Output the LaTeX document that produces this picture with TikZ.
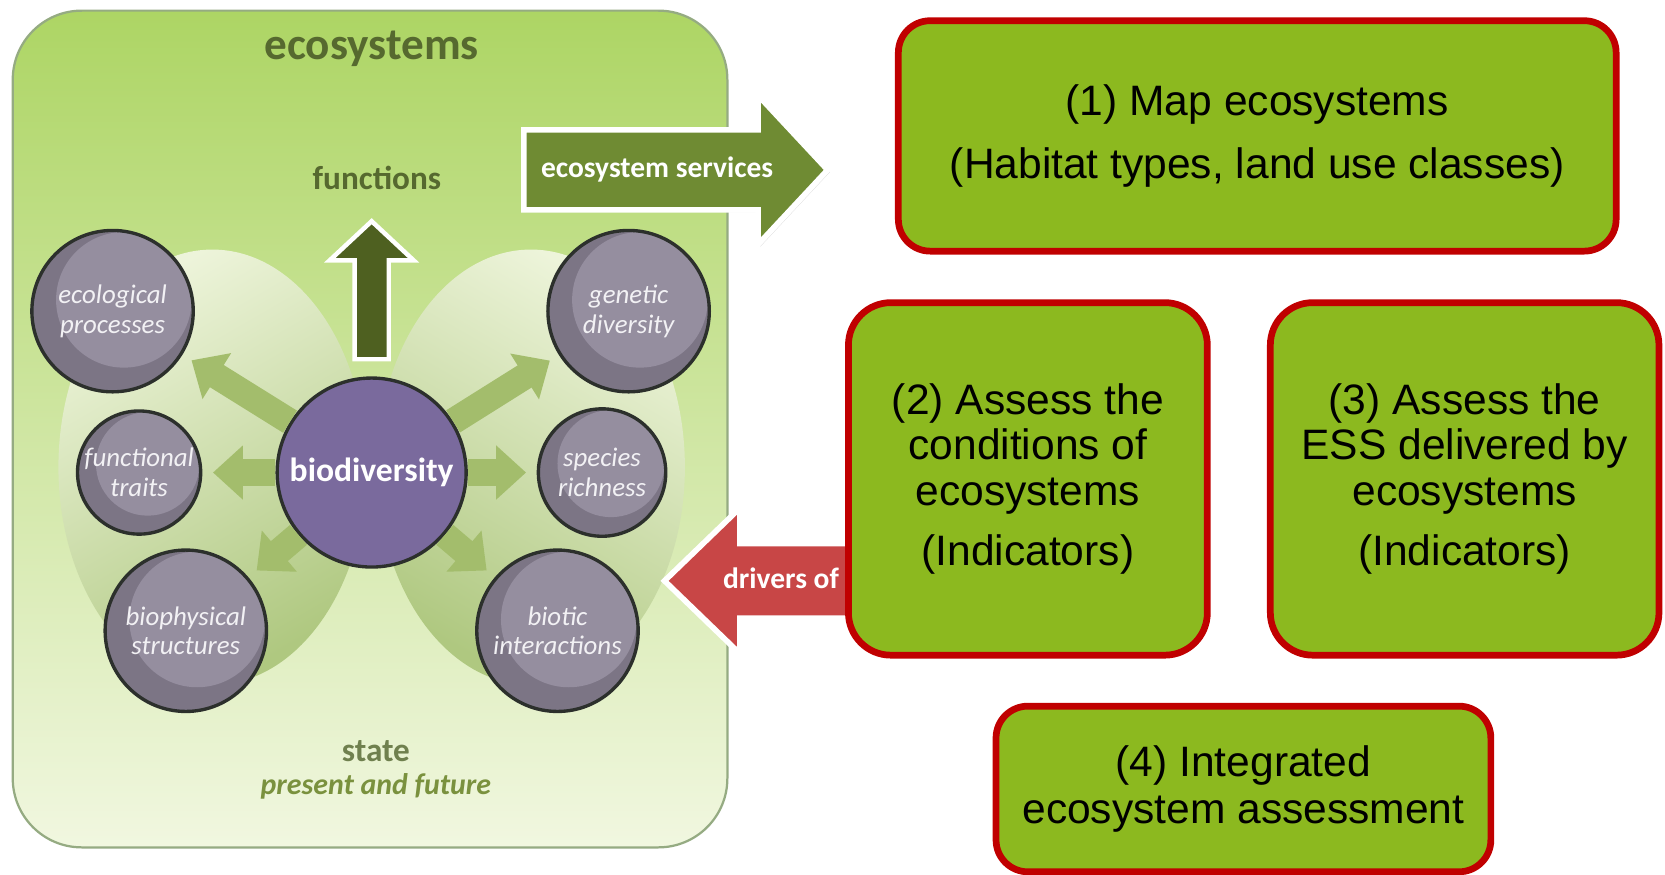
\documentclass[tikz,border=0pt]{standalone}
\usepackage{fontspec}
\setmainfont{Liberation Sans}
\newfontfamily\calfont{Carlito}
\usepackage{xcolor}
\usetikzlibrary{arrows.meta,shapes.arrows,shadows,positioning}

\definecolor{stepgreen}{HTML}{8CB91F}
\definecolor{stepred}{HTML}{C00000}
\definecolor{panetop}{HTML}{ADD564}
\definecolor{panemid}{HTML}{D3E8A6}
\definecolor{panebot}{HTML}{F1F7E0}
\definecolor{paneline}{HTML}{95AB82}
\definecolor{winglight}{HTML}{EDF4DA}
\definecolor{wingdark}{HTML}{AFC880}
\definecolor{circbase}{HTML}{7C7585}
\definecolor{circlite}{HTML}{958E9F}
\definecolor{circline}{HTML}{2C302C}
\definecolor{biopurple}{HTML}{7A6A9D}
\definecolor{oliveink}{HTML}{56692F}
\definecolor{oliveital}{HTML}{7A913E}
\definecolor{essgreen}{HTML}{6F8B33}
\definecolor{fngreen}{HTML}{4E6020}
\definecolor{drvred}{HTML}{C84646}
\definecolor{smallarr}{HTML}{A3BD6C}

\newcommand{\stepfont}{\fontsize{11.4}{12.2}\selectfont}
\newcommand{\circfont}{\calfont\itshape\fontsize{7.2}{8}\selectfont}

\tikzset{
    panelsty/.style={draw=paneline, line width=0.6pt, rounded corners=6.5mm,
        top color=panetop, middle color=panemid, bottom color=panebot},
    wingsty/.style={top color=winglight, bottom color=wingdark},
    stepsty/.style={draw=stepred, line width=1.8pt, fill=stepgreen, rounded corners=3mm,
        align=center, font=\stepfont, inner sep=0pt},
    circsty/.style={circle, draw=circline, line width=0.9pt, fill=circbase, inner sep=0pt,
        minimum size=#1, align=center, font=\circfont, text=white!88!circlite,
        path picture={\fill[circlite] ([xshift=0.07*#1,yshift=0.07*#1]path picture bounding box.center)
            circle [radius=0.42*#1];}},
    biosty/.style={circle, draw=circline, line width=0.9pt, fill=biopurple, minimum size=17.8mm,
        inner sep=0pt, text=white, font=\calfont\bfseries\fontsize{9}{10}\selectfont},
    smallarrsty/.style={draw=smallarr, line width=7pt, -{Triangle[length=8pt,width=14pt]}, shorten >=1mm},
    bigarrsty/.style={single arrow, draw=white, line width=1.5pt, inner xsep=0pt,
        text height=2.2mm, text depth=0.8mm,
        drop shadow={opacity=0.3, shadow xshift=0.6pt, shadow yshift=-0.6pt},
        text=white, font=\calfont\bfseries\fontsize{7.9}{9}\selectfont},
    labelsty/.style={text=oliveink, font=\calfont\bfseries\fontsize{8.9}{10}\selectfont},
}

\begin{document}
\begin{tikzpicture}[x=0.1mm, y=-0.1mm]
\useasboundingbox (0,0) rectangle (1568,824);

% ecosystems panel with the two wings behind the circles
\draw[panelsty] (12,10) rectangle (685,798);
\shade[wingsty, shading angle=30] (200,440) ellipse [x radius=14.5mm, y radius=20.5mm];
\shade[wingsty, shading angle=-30] (500,440) ellipse [x radius=14.5mm, y radius=20.5mm];

\node[labelsty, font=\calfont\bfseries\fontsize{12.1}{14}\selectfont] (ecotitle) at (350,46) {ecosystems};
\node[labelsty] (fnlabel) at (355,168) {functions};
\node[labelsty, text=oliveink!85!white] (state) at (354,707) {state};
\node[labelsty, text=oliveital, font=\calfont\bfseries\itshape\fontsize{8}{9}\selectfont] (future) at (354,741) {present and future};

% biodiversity and its components
\node[biosty] (bio) at (350,445) {biodiversity};
\node[circsty=15.2mm] (ecop) at (106,293) {ecological\\processes};
\node[circsty=11.6mm] (ftrait) at (131,445) {functional\\traits};
\node[circsty=15.2mm] (biophys) at (175,594) {biophysical\\structures};
\node[circsty=15.2mm] (genet) at (592,293) {genetic\\diversity};
\node[circsty=12mm] (spec) at (567,445) {species\\richness};
\node[circsty=15.2mm] (biot) at (525,594) {biotic\\interactions};

\foreach \c in {ecop,ftrait,biophys,genet,spec,biot}
    \draw[smallarrsty] (bio) -- (\c);

\node[single arrow, rotate=90, fill=fngreen, draw=white, line width=1.2pt, inner xsep=0pt, inner ysep=1.4mm,
    minimum height=13mm, single arrow head extend=2.35mm,
    single arrow tip angle=94, anchor=tail] (fnarr) at ([yshift=1.4mm]bio.north) {};

% flows in and out of the panel
\node[bigarrsty, fill=essgreen, inner ysep=2mm, minimum height=28.6mm,
    single arrow head extend=3.25mm, single arrow tip angle=94, anchor=tip] (esarr) at (783,160) {ecosystem services};
\node[bigarrsty, fill=drvred, shape border rotate=180, inner ysep=1.75mm, minimum height=18.3mm,
    single arrow head extend=3.35mm, single arrow tip angle=88, anchor=tip] (drvarr) at (622,547) {drivers of};

% assessment steps
\node[stepsty, minimum width=67.6mm, minimum height=21.7mm] (step1) at (1184,128)
    {(1) Map ecosystems\\[4.6pt](Habitat types, land use classes)};
\node[stepsty, minimum width=33.8mm, minimum height=33.2mm, rounded corners=4mm] (step2) at (968,451)
    {(2) Assess the\\conditions of\\ecosystems\\[4pt](Indicators)};
\node[stepsty, minimum width=36.6mm, minimum height=33.2mm, rounded corners=4mm, right=5.3mm of step2] (step3)
    {(3) Assess the\\ESS delivered by\\ecosystems\\[4pt](Indicators)};
\node[stepsty, minimum width=46.6mm, minimum height=15.6mm] (step4) at (1171,743)
    {(4) Integrated\\[0.6pt]ecosystem assessment};
\end{tikzpicture}
\end{document}
